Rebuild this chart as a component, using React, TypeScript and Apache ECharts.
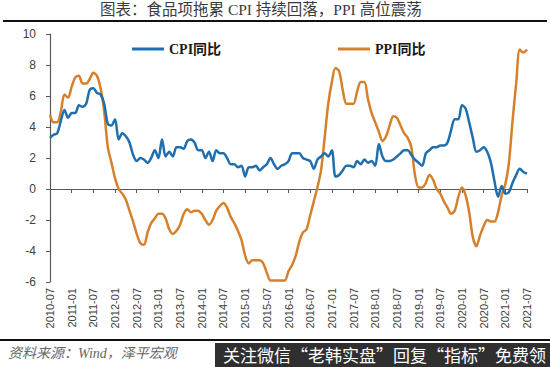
import React, { useEffect, useRef } from "react";
import * as echarts from "echarts";

// Monthly categories 2010-07 .. 2021-07
const startYear = 2010;
const startMonth = 7;
const monthCount = 133;
const categories: string[] = [];
for (let i = 0; i < monthCount; i++) {
  const m = startMonth - 1 + i;
  const y = startYear + Math.floor(m / 12);
  const mm = (m % 12) + 1;
  categories.push(`${y}-${mm < 10 ? "0" + mm : mm}`);
}

// CPI YoY (%)
const cpi2010 = [3.3, 3.5, 3.6, 4.4, 5.1, 4.6];
const cpi2011 = [4.9, 4.9, 5.4, 5.3, 5.5, 6.4, 6.5, 6.2, 6.1, 5.5, 4.2, 4.1];
const cpi2012 = [4.5, 3.2, 3.6, 3.4, 3.0, 2.2, 1.8, 2.0, 1.9, 1.7, 2.0, 2.5];
const cpi2013 = [2.0, 3.2, 2.1, 2.4, 2.1, 2.7, 2.7, 2.6, 3.1, 3.2, 3.0, 2.5];
const cpi2014 = [2.5, 2.0, 2.4, 1.8, 2.5, 2.3, 2.3, 2.0, 1.6, 1.6, 1.4, 1.5];
const cpi2015 = [0.8, 1.4, 1.4, 1.5, 1.2, 1.4, 1.6, 2.0, 1.6, 1.3, 1.5, 1.6];
const cpi2016 = [1.8, 2.3, 2.3, 2.3, 2.0, 1.9, 1.8, 1.3, 1.9, 2.1, 2.3, 2.1];
const cpi2017 = [2.5, 0.8, 0.9, 1.2, 1.5, 1.5, 1.4, 1.8, 1.6, 1.9, 1.7, 1.8];
const cpi2018 = [1.5, 2.9, 2.1, 1.8, 1.8, 1.9, 2.1, 2.3, 2.5, 2.5, 2.2, 1.9];
const cpi2019 = [1.7, 1.5, 2.3, 2.5, 2.7, 2.7, 2.8, 2.8, 3.0, 3.8, 4.5, 4.5];
const cpi2020 = [5.4, 5.2, 4.3, 3.3, 2.4, 2.5, 2.7, 2.4, 1.7, 0.5, -0.5, 0.2];
const cpi2021 = [-0.3, -0.2, 0.4, 0.9, 1.3, 1.1, 1.0];

// PPI YoY (%)
const ppi2010 = [4.8, 4.3, 4.3, 5.0, 6.1, 5.9];
const ppi2011 = [6.6, 7.2, 7.3, 6.8, 6.8, 7.1, 7.5, 7.3, 6.5, 5.0, 2.7, 1.7];
const ppi2012 = [0.7, 0.0, -0.3, -0.7, -1.4, -2.1, -2.9, -3.5, -3.6, -2.8, -2.2, -1.9];
const ppi2013 = [-1.6, -1.6, -1.9, -2.6, -2.9, -2.7, -2.3, -1.6, -1.3, -1.5, -1.4, -1.4];
const ppi2014 = [-1.6, -2.0, -2.3, -2.0, -1.4, -1.1, -0.9, -1.2, -1.8, -2.2, -2.7, -3.3];
const ppi2015 = [-4.3, -4.8, -4.6, -4.6, -4.6, -4.8, -5.4, -5.9, -5.9, -5.9, -5.9, -5.9];
const ppi2016 = [-5.3, -4.9, -4.3, -3.4, -2.8, -2.6, -1.7, -0.8, 0.1, 1.2, 3.3, 5.5];
const ppi2017 = [6.9, 7.8, 7.6, 6.4, 5.5, 5.5, 5.5, 6.3, 6.9, 6.9, 5.8, 4.9];
const ppi2018 = [4.3, 3.7, 3.1, 3.4, 4.1, 4.7, 4.6, 4.1, 3.6, 3.3, 2.7, 0.9];
const ppi2019 = [0.1, 0.1, 0.4, 0.9, 0.6, 0.0, -0.3, -0.8, -1.2, -1.6, -1.4, -0.5];
const ppi2020 = [0.1, -0.4, -1.5, -3.1, -3.7, -3.0, -2.4, -2.0, -2.1, -2.1, -1.5, -0.4];
const ppi2021 = [0.3, 1.7, 4.4, 6.8, 9.0, 8.8, 9.0];

const cpiValues = [
  ...cpi2010, ...cpi2011, ...cpi2012, ...cpi2013, ...cpi2014, ...cpi2015,
  ...cpi2016, ...cpi2017, ...cpi2018, ...cpi2019, ...cpi2020, ...cpi2021,
];
const ppiValues = [
  ...ppi2010, ...ppi2011, ...ppi2012, ...ppi2013, ...ppi2014, ...ppi2015,
  ...ppi2016, ...ppi2017, ...ppi2018, ...ppi2019, ...ppi2020, ...ppi2021,
];

const titleText = "图表：食品项拖累 CPI 持续回落，PPI 高位震荡";
const sourceText = "资料来源：Wind，泽平宏观";
const bannerText = "关注微信“老韩实盘”回复“指标”免费领";
const cpiName = "CPI同比";
const ppiName = "PPI同比";

const CPI_COLOR = "#1F6EAD";
const PPI_COLOR = "#D6802C";
const AXIS_COLOR = "#595959";
const serif = "'Liberation Serif', 'DejaVu Serif', 'Noto Sans CJK SC', serif";
const sans = "'Liberation Sans', 'Noto Sans CJK SC', sans-serif";

export default function App() {
  const ref = useRef<HTMLDivElement>(null);
  useEffect(() => {
    if (!ref.current) return;
    const chart = echarts.init(ref.current, undefined, { renderer: "svg" });
    chart.setOption({
      animation: false,
      backgroundColor: "#ffffff",
      grid: { left: 50, right: 23, top: 34, bottom: 85, containLabel: false },
      legend: [
        {
          data: [cpiName],
          left: 127,
          top: 37,
          itemWidth: 32,
          itemHeight: 3,
          icon: "rect",
          textStyle: { fontFamily: serif, fontWeight: "bold", fontSize: 14, color: "#1a1a1a" },
        },
        {
          data: [ppiName],
          left: 333,
          top: 37,
          itemWidth: 32,
          itemHeight: 3,
          icon: "rect",
          textStyle: { fontFamily: serif, fontWeight: "bold", fontSize: 14, color: "#1a1a1a" },
        },
      ],
      xAxis: [
        {
          type: "category",
          data: categories,
          boundaryGap: false,
          axisLine: { onZero: true, lineStyle: { color: AXIS_COLOR, width: 1.2 } },
          axisTick: { show: true, interval: 5, length: 4, lineStyle: { color: AXIS_COLOR } },
          axisLabel: { show: false },
          splitLine: { show: false },
        },
        {
          type: "category",
          data: categories,
          boundaryGap: false,
          position: "bottom",
          axisLine: { show: false },
          axisTick: { show: false },
          axisLabel: {
            show: true,
            interval: 5,
            rotate: 90,
            margin: 6,
            fontSize: 11,
            fontFamily: sans,
            color: "#404040",
          },
          splitLine: { show: false },
        },
      ],
      yAxis: {
        type: "value",
        min: -6,
        max: 10,
        interval: 2,
        axisLine: { show: true, lineStyle: { color: AXIS_COLOR, width: 1.2 } },
        axisTick: { show: true, length: 4, lineStyle: { color: AXIS_COLOR } },
        axisLabel: { fontSize: 12, fontFamily: sans, color: "#404040", margin: 14 },
        splitLine: { show: false },
      },
      series: [
        {
          name: cpiName,
          type: "line",
          xAxisIndex: 0,
          data: cpiValues,
          smooth: 0.3,
          showSymbol: false,
          lineStyle: { color: CPI_COLOR, width: 2.5 },
          itemStyle: { color: CPI_COLOR },
          z: 3,
        },
        {
          name: ppiName,
          type: "line",
          xAxisIndex: 0,
          data: ppiValues,
          smooth: 0.3,
          showSymbol: false,
          lineStyle: { color: PPI_COLOR, width: 2.5 },
          itemStyle: { color: PPI_COLOR },
          z: 2,
        },
      ],
      graphic: [
        {
          type: "text",
          left: 100,
          top: 2,
          style: { text: titleText, font: `15.5px ${serif}`, fill: "#3a3a3a" },
        },
        {
          type: "rect",
          shape: { x: 3, y: 20, width: 544, height: 2 },
          style: { fill: "#111111" },
        },
        {
          type: "rect",
          shape: { x: 0, y: 339, width: 550, height: 2 },
          style: { fill: "#111111" },
        },
        {
          type: "text",
          left: 8,
          top: 346,
          style: {
            text: sourceText,
            font: `italic 14px ${serif}`,
            fill: "#666666",
          },
        },
        {
          type: "rect",
          shape: { x: 215, y: 343, width: 335, height: 24 },
          style: { fill: "#2f2f2f" },
        },
        {
          type: "text",
          left: 223,
          top: 346,
          style: {
            text: bannerText,
            font: `17px 'Noto Sans CJK SC', sans-serif`,
            fill: "#ffffff",
          },
        },
      ],
    });
    return () => chart.dispose();
  }, []);
  return (
    <div
      ref={ref}
      style={{ position: "fixed", left: 0, top: 0, width: 550, height: 367 }}
    />
  );
}
